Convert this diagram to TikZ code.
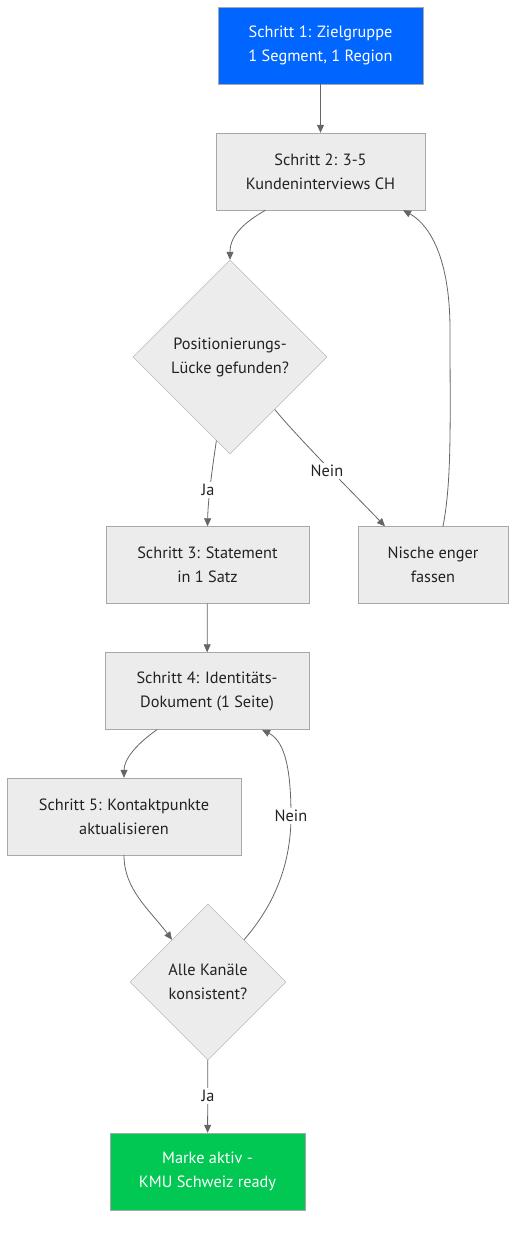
\documentclass[tikz,border=0pt]{standalone}
\usepackage{fontspec}
\setmainfont{PT Sans}
\usepackage{tikz}
\usetikzlibrary{shapes.geometric,arrows.meta,calc}
\definecolor{boxgray}{HTML}{ECECEC}
\definecolor{boxline}{HTML}{A8A8A8}
\definecolor{linegray}{HTML}{666666}
\definecolor{textgray}{HTML}{222222}
\definecolor{startblue}{HTML}{0066FF}
\definecolor{endgreen}{HTML}{00C853}
\tikzstyle{procbox}=[draw=boxline,fill=boxgray,text=textgray,minimum height=77pt,align=center,inner sep=0pt,font=\fontsize{16.3}{24}\selectfont]
\tikzstyle{startbox}=[procbox,fill=startblue,text=white]
\tikzstyle{endbox}=[procbox,fill=endgreen,text=white]
\tikzstyle{decbox}=[diamond,aspect=1,draw=boxline,fill=boxgray,text=textgray,align=center,inner sep=0pt,font=\fontsize{16.3}{24}\selectfont]
\tikzstyle{arr}=[draw=linegray,line width=0.8pt,-{Triangle[length=8pt,width=7pt]}]
\tikzstyle{lbl}=[fill=white,text=textgray,inner sep=2pt,font=\fontsize{16.3}{18}\selectfont]

\begin{document}
\begin{tikzpicture}[x=1pt,y=-1pt]
        \useasboundingbox (0,0) rectangle (524,1238);
        \node[startbox,minimum width=205pt] (s1) at (320.5,45.5) {Schritt 1: Zielgruppe\\1 Segment, 1 Region};
        \node[procbox,minimum width=209pt] (s2) at (320.5,171.5) {Schritt 2: 3-5\\Kundeninterviews CH};
        \node[decbox,minimum width=194pt,minimum height=194pt] (d1) at (230,357) {Positionierungs-\\Lücke gefunden?};
        \node[procbox,minimum width=203pt] (s3) at (207.5,565) {Schritt 3: Statement\\in 1 Satz};
        \node[procbox,minimum width=150pt] (ni) at (433,565) {Nische enger\\fassen};
        \node[procbox,minimum width=204pt] (s4) at (207,691) {Schritt 4: Identitäts-\\Dokument (1 Seite)};
        \node[procbox,minimum width=234pt] (s5) at (124,816.5) {Schritt 5: Kontaktpunkte\\aktualisieren};
        \node[decbox,minimum width=156pt,minimum height=156pt] (d2) at (208,982) {Alle Kanäle\\konsistent?};
        \node[endbox,minimum width=195pt] (fin) at (207.5,1171.5) {Marke aktiv -\\KMU Schweiz ready};

        % connectors
        \draw[arr] (s1) -- (s2);
        \draw[arr] ([xshift=-55pt]s2.south) .. controls (245,222) and (230,235) .. (d1.north);
        \draw[arr] ($(d1.south)!0.14!(d1.west)$) .. controls (212,470) and (208,500) .. (s3.north);
        \draw[arr] ($(d1.south)!0.46!(d1.east)$) .. controls (300,440) and (355,495) .. ([xshift=-48pt]ni.north);
        \draw[arr] ([xshift=10pt]ni.north) .. controls (452,480) and (450,420) .. (450,330)
          .. controls (450,250) and (425,222) .. ([xshift=82.5pt]s2.south);
        \draw[arr] (s3) -- (s4);
        \draw[arr] ([xshift=-50pt]s4.south) .. controls (135,745) and (124,760) .. (s5.north);
        \draw[arr] (s5.south) .. controls (124,890) and (150,910) .. ($(d2.north)!0.46!(d2.west)$);
        \draw[arr] ($(d2.north)!0.46!(d2.east)$) .. controls (270,910) and (291,870) .. (291,816)
          .. controls (291,760) and (282,740) .. ([xshift=55pt]s4.south);
        \draw[arr] (d2) -- (fin);

        % labels
        \node[lbl] (ja1) at (208,490) {Ja};
        \node[lbl] (nein1) at (327,471) {Nein};
        \node[lbl] (nein2) at (291,816) {Nein};
        \node[lbl] (ja2) at (208,1096) {Ja};
\end{tikzpicture}
\end{document}
